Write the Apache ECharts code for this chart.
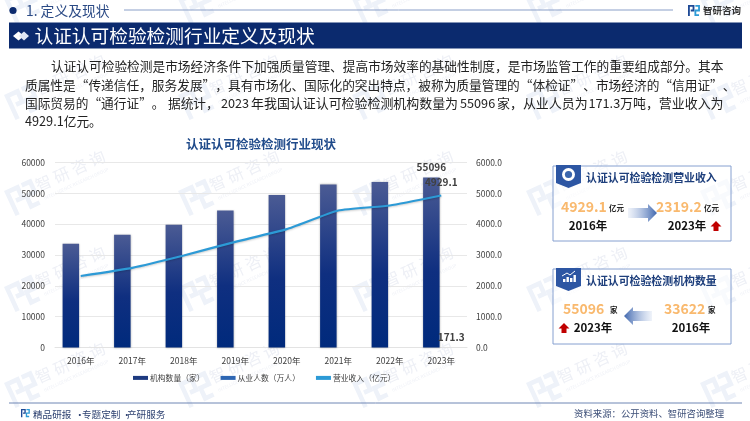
<!DOCTYPE html>
<html>
<head>
<meta charset="utf-8">
<title>认证认可检验检测行业定义及现状</title>
<script src="https://cdn.jsdelivr.net/npm/echarts@6/dist/echarts.min.js"></script>
<style>
html, body { margin: 0; padding: 0; background: #fff; }
#chart { width: 750px; height: 421px; }
</style>
</head>
<body>
<div id="chart"></div>
<script>
var FONT = '"Noto Sans CJK SC", sans-serif';

// 数据
var years = ['2016年', '2017年', '2018年', '2019年', '2020年', '2021年', '2022年', '2023年'];
var orgCount = [33622, 36600, 39800, 44400, 49500, 52900, 53700, 55096];
var staffCount = [119.6, 117.5, 128.5, 131.5, 141.2, 151.3, 156.2, 171.3];
var revenue = [2319.2, 2584, 2984, 3427, 3838, 4443, 4605, 4929.1];
var seriesNames = ['机构数量（家）', '从业人数（万人）', '营业收入（亿元）'];

function text(x, y, str, size, color, weight, align) {
    return {
        type: 'text', x: x, y: y, z: 5,
        style: {
            text: str, fontSize: size, fill: color, fontFamily: FONT,
            fontWeight: weight || 'normal', align: align || 'left', verticalAlign: 'middle'
        }
    };
}

function poly(points, fill, z) {
    return { type: 'polygon', z: z || 5, shape: { points: points }, style: { fill: fill } };
}

// 智研 logo，两笔折线
function logo(x, y, s, c1, c2, z) {
    return {
        type: 'group', x: x, y: y, scaleX: s, scaleY: s, z: z,
        children: [
            { type: 'polyline', z: z, shape: { points: [[1, 12], [1, 1], [6, 1], [6, 6], [3, 6]] }, style: { stroke: c1, lineWidth: 2, fill: null } },
            { type: 'polyline', z: z, shape: { points: [[8, 1], [12, 1], [12, 6], [8, 6], [8, 11], [12, 11]] }, style: { stroke: c2, lineWidth: 2, fill: null } }
        ]
    };
}

// 背景水印
function watermarks() {
    var list = [];
    for (var row = 0; row < 5; row++) {
        for (var col = 0; col < 5; col++) {
            var baseX = col * 174;
            var baseY = -5 + row * 96;
            list.push({
                type: 'group', x: baseX + 4, y: baseY + 4, rotation: 0.43, z: 0,
                children: [logo(0, 0, 2.3, '#eef2f9', '#eef2f9', 0)]
            });
            list.push({
                type: 'group', x: baseX + 33, y: baseY - 8, rotation: 0.43, z: 0,
                children: [
                    { type: 'text', z: 0, x: 0, y: 0, style: { text: '智 研 咨 询', fontSize: 16, fill: '#eef0f6', fontFamily: FONT } },
                    { type: 'text', z: 0, x: 2, y: 20, style: { text: 'INTELLIGENCE RESEARCH GROUP', fontSize: 4.5, fill: '#eef0f6', fontFamily: FONT } }
                ]
            });
        }
    }
    return list;
}

function panel(top, title) {
    return [
        { type: 'rect', z: 3, shape: { x: 553, y: top, width: 178, height: 75 }, style: { fill: 'rgba(255,255,255,0.6)', stroke: '#86a0d0', lineWidth: 1 } },
        poly([[556, top - 1], [581, top - 1], [581, top + 17], [568.5, top + 22], [556, top + 17]], '#2d56a3'),
        text(586, top + 12, title, 10.9, '#1e3f7c', 'bold')
    ];
}

// 渐变箭头，dir = 1 向右，-1 向左
function arrow(x0, x1, y, dir) {
    var tip = dir > 0 ? x1 : x0;
    var tail = dir > 0 ? x0 : x1;
    var neck = tip - dir * 9;
    return {
        type: 'polygon', z: 5,
        shape: { points: [[tail, y - 5], [neck, y - 5], [neck, y - 9], [tip, y], [neck, y + 9], [neck, y + 5], [tail, y + 5]] },
        style: {
            fill: new echarts.graphic.LinearGradient(dir > 0 ? 0 : 1, 0, dir > 0 ? 1 : 0, 0, [
                { offset: 0, color: 'rgba(150,175,220,0.15)' },
                { offset: 1, color: '#3f66ad' }
            ])
        }
    };
}

function upArrow(cx, top) {
    return poly([[cx, top], [cx + 5.5, top + 5.5], [cx + 2.5, top + 5.5], [cx + 2.5, top + 10], [cx - 2.5, top + 10], [cx - 2.5, top + 5.5], [cx - 5.5, top + 5.5]], '#c00000');
}

function pageGraphics() {
    var g = watermarks();
    // 顶部
    g.push({ type: 'circle', z: 5, shape: { cx: 13, cy: 10.5, r: 3.6 }, style: { fill: '#0b2a6e' } });
    g.push(text(26, 11, '1. 定义及现状', 13.8, '#2b4a85'));
    g.push({ type: 'line', z: 5, shape: { x1: 124, y1: 10, x2: 673, y2: 10 }, style: { stroke: '#8a9fc8', lineWidth: 1 } });
    g.push(logo(688, 5, 0.92, '#1f4a96', '#2e9bd6', 5));
    g.push(text(703, 10.5, '智研咨询', 9.5, '#333', 'bold'));
    // 标题条
    g.push({ type: 'rect', z: 4, shape: { x: 9, y: 22.5, width: 733, height: 26 }, style: { fill: '#0b2a6e' } });
    g.push(poly([[13, 36], [18.5, 31.5], [24, 36], [18.5, 40.5]], '#fff'));
    g.push(poly([[19, 36], [24, 31.5], [29, 36], [24, 40.5]], '#dfe6f3'));
    g.push(text(34.5, 35.5, '认证认可检验检测行业定义及现状', 18.7, '#fff'));
    // 正文，数字和汉字之间有间距，所以第三行分段放
    var para = [
        [51, 66, '认证认可检验检测是市场经济条件下加强质量管理、提高市场效率的基础性制度，是市场监管工作的重要组成部分。其本', 12.7],
        [25, 85, '质属性是“传递信任，服务发展”，具有市场化、国际化的突出特点，被称为质量管理的“体检证”、市场经济的“信用证”、', 12.7],
        [25, 103, '国际贸易的“通行证”。', 12.7],
        [168, 103, '据统计，', 12.7],
        [221, 103, '2023', 12.7],
        [251, 103, '年我国认证认可检验检测机构数量为', 12.95],
        [460, 103, '55096', 12.7],
        [497, 103, '家，从业人员为', 12.95],
        [588.5, 103, '171.3', 12.7],
        [620, 103, '万吨，营业收入为', 12.95],
        [25, 121, '4929.1亿元。', 12.7]
    ];
    para.forEach(function (p) {
        g.push(text(p[0], p[1], p[2], p[3], '#222'));
    });
    // 右侧卡片一
    g = g.concat(panel(166, '认证认可检验检测营业收入'));
    g.push({ type: 'circle', z: 6, shape: { cx: 568.5, cy: 174.5, r: 6.5 }, style: { fill: '#fff' } });
    g.push({ type: 'circle', z: 6, shape: { cx: 568.5, cy: 174.5, r: 3.6 }, style: { fill: '#3b66ad' } });
    g.push(text(561, 207, '4929.1', 14, '#f9b96e', 'bold'));
    g.push(text(609, 208, '亿元', 7.5, '#222', 'bold'));
    g.push(text(588, 226, '2016年', 11.5, '#111', 'bold', 'center'));
    g.push(arrow(628, 657, 213, 1));
    g.push(text(656, 207, '2319.2', 14, '#f9b96e', 'bold'));
    g.push(text(704, 208, '亿元', 7.5, '#222', 'bold'));
    g.push(text(687, 226, '2023年', 11.5, '#111', 'bold', 'center'));
    g.push(upArrow(716, 221));
    // 右侧卡片二
    g = g.concat(panel(269, '认证认可检验检测机构数量'));
    [[563, 3], [566.5, 5], [570, 4], [573.5, 7]].forEach(function (b) {
        g.push({ type: 'rect', z: 6, shape: { x: b[0], y: 282 - b[1], width: 2.4, height: b[1] }, style: { fill: '#fff' } });
    });
    g.push({ type: 'polyline', z: 6, shape: { points: [[562, 276], [567, 273], [570, 275], [575, 271]] }, style: { stroke: '#fff', lineWidth: 1, fill: null } });
    g.push(text(563, 309, '55096', 14, '#f9b96e', 'bold'));
    g.push(text(610, 310, '家', 7.5, '#222', 'bold'));
    g.push(text(593, 328, '2023年', 11.5, '#111', 'bold', 'center'));
    g.push(upArrow(564, 323));
    g.push(arrow(624, 652, 316, -1));
    g.push(text(664, 309, '33622', 14, '#f9b96e', 'bold'));
    g.push(text(708, 310, '家', 7.5, '#222', 'bold'));
    g.push(text(691, 328, '2016年', 11.5, '#111', 'bold', 'center'));
    // 底部
    g.push({ type: 'line', z: 5, shape: { x1: 9, y1: 403, x2: 742, y2: 403 }, style: { stroke: '#6f86b4', lineWidth: 1 } });
    g.push(logo(21, 409, 0.68, '#1f4a96', '#2e9bd6', 5));
    [[33, '精品研报'], [75, '·'], [82, '专题定制'], [122, '·'], [127, '产研服务']].forEach(function (p) {
        g.push(text(p[0], 414, p[1], 9.6, '#2b3f6f'));
    });
    g.push(text(574, 413, '资料来源：公开资料、智研咨询整理', 9.4, '#3d4f78'));
    return g;
}

var myChart = echarts.init(document.getElementById('chart'), null, { renderer: 'canvas' });

var barColor = new echarts.graphic.LinearGradient(0, 0, 0, 1, [
    { offset: 0, color: '#4b5b94' },
    { offset: 0.55, color: '#0f2f80' },
    { offset: 1, color: '#002a7c' }
]);

function lastOnly(p) {
    return p.dataIndex === years.length - 1 ? String(p.value) : '';
}

var valueLabel = {
    show: true, position: 'top',
    fontSize: 10, fontWeight: 'bold', color: '#404040', fontFamily: FONT,
    formatter: lastOnly
};

var option = {
    animation: false,
    backgroundColor: '#fff',
    textStyle: { fontFamily: FONT },
    title: {
        text: '认证认可检验检测行业现状',
        left: 256, top: 133, textAlign: 'center',
        textStyle: { fontSize: 12.5, fontWeight: 'bold', color: '#1f4a8a', fontFamily: FONT }
    },
    legend: {
        left: 133, top: 374, padding: 0,
        itemWidth: 15, itemHeight: 4, itemGap: 16,
        textStyle: { fontSize: 7.8, color: '#404040', fontFamily: FONT, padding: [0, 0, 0, -3] },
        data: [
            { name: seriesNames[0], icon: 'rect', itemStyle: { color: '#1d3a80' } },
            { name: seriesNames[1], icon: 'rect', itemStyle: { color: '#2d66b3' } },
            { name: seriesNames[2], icon: 'rect', itemStyle: { color: '#2c9ad6' } }
        ]
    },
    grid: { left: 55, right: 283, top: 162.5, bottom: 73.5 },
    xAxis: {
        type: 'category',
        data: years,
        axisTick: { show: false },
        axisLine: { lineStyle: { color: '#e3e3e3' } },
        axisLabel: { fontSize: 8.5, color: '#404040', margin: 9, fontFamily: FONT }
    },
    yAxis: [
        {
            type: 'value', min: 0, max: 60000, interval: 10000,
            axisLine: { show: false }, axisTick: { show: false },
            axisLabel: {
                fontSize: 8.5, color: '#404040', margin: 10, fontFamily: FONT,
                formatter: function (v) { return String(v); }
            },
            splitLine: { lineStyle: { color: '#e8e8e8' } }
        },
        {
            type: 'value', min: 0, max: 6000, interval: 1000,
            axisLine: { show: false }, axisTick: { show: false },
            axisLabel: {
                fontSize: 8.5, color: '#404040', margin: 9, fontFamily: FONT,
                formatter: function (v) { return v.toFixed(1); }
            },
            splitLine: { show: false }
        }
    ],
    series: [
        {
            name: seriesNames[0], type: 'bar', yAxisIndex: 0,
            barWidth: 16.5, barGap: '20%',
            data: orgCount,
            itemStyle: { color: barColor, shadowColor: 'rgba(0,0,0,0.25)', shadowBlur: 2 },
            label: Object.assign({}, valueLabel, { distance: 5 })
        },
        {
            // 这一组在图上几乎不可见，只留标签
            name: seriesNames[1], type: 'bar', yAxisIndex: 1,
            barWidth: 16.5,
            data: staffCount,
            itemStyle: { color: 'rgba(0,0,0,0)' },
            label: Object.assign({}, valueLabel, { distance: 0 })
        },
        {
            name: seriesNames[2], type: 'line', yAxisIndex: 1,
            data: revenue, smooth: 0.15, symbol: 'circle', symbolSize: 0.1, z: 4,
            lineStyle: { color: '#2c9ad6', width: 2.2, shadowColor: 'rgba(0,0,0,0.2)', shadowBlur: 2, shadowOffsetY: 1 },
            itemStyle: { color: '#2c9ad6' },
            label: Object.assign({}, valueLabel, { distance: 8 })
        }
    ],
    graphic: { elements: pageGraphics() }
};

myChart.setOption(option);
</script>
</body>
</html>
